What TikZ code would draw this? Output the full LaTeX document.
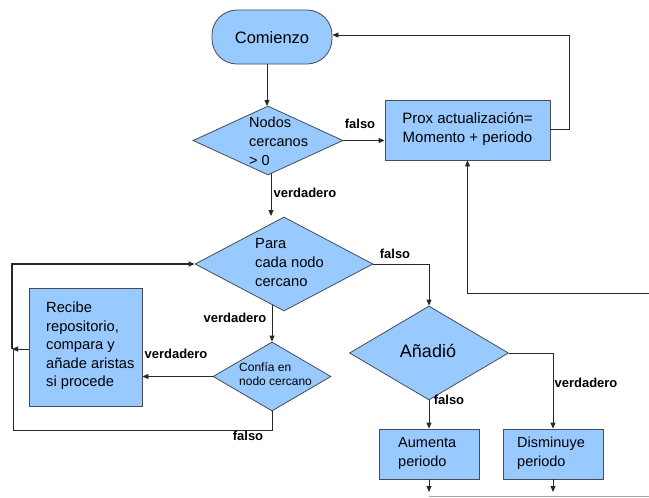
\documentclass[tikz,border=0pt]{standalone}
\usepackage{fontspec}
\setmainfont{Liberation Sans}
\usetikzlibrary{arrows.meta,shapes.geometric,calc}
\pgfdeclarelayer{bg}
\pgfsetlayers{bg,main}
\definecolor{boxfill}{RGB}{153,202,255}
\definecolor{boxline}{RGB}{70,75,85}
\definecolor{wire}{RGB}{40,40,40}
\begin{document}
\begin{tikzpicture}[x=1pt,y=-1pt,
  shapebase/.style={draw=boxline,fill=boxfill,line width=0.8pt,inner sep=0pt},
  stepbox/.style={shapebase,rectangle,minimum width=#1},
  stepbox/.default=100pt,
  startbox/.style={shapebase,rectangle,rounded corners=25pt,minimum width=120pt,minimum height=54pt},
  decision/.style={shapebase,diamond},
  txt/.style={inner sep=0pt,align=left,font=\fontsize{14.5}{19}\selectfont},
  ctxt/.style={inner sep=0pt,align=center,font=\fontsize{15}{19}\selectfont},
  lbl/.style={inner sep=0pt,font=\fontsize{13}{15}\selectfont\bfseries},
  wireline/.style={draw=wire,line width=0.8pt},
  arr/.style={wireline,-{Triangle[length=6pt,width=5pt]}},
]
\useasboundingbox (0,0) rectangle (649,498);

% ---- shapes ----
\node[startbox] (com) at (272,37) {};
\node[ctxt,font=\fontsize{16.5}{19}\selectfont] (comt) at (272,38) {Comienzo};

\node[decision,minimum width=150pt,minimum height=69pt] (d1) at (268,140.5) {};
\node[txt,anchor=west] (d1t) at (249,141) {Nodos\\cercanos\\> 0};

\node[stepbox=165pt,minimum height=60pt] (prox) at (467.5,130) {};
\node[ctxt] (proxt) at (467.5,129) {Prox actualización=\\Momento + periodo};

\node[decision,minimum width=178pt,minimum height=94pt] (d2) at (284,264) {};
\node[txt,anchor=west,font=\fontsize{14.7}{19}\selectfont] (d2t) at (255,263) {Para\\cada nodo\\cercano};

\node[decision,minimum width=118pt,minimum height=69pt] (d4) at (272,376.5) {};
\node[txt,anchor=west,font=\fontsize{12}{14}\selectfont] (d4t) at (239,374) {Confía en\\nodo cercano};

\node[stepbox=113pt,minimum height=118pt] (rec) at (85.5,347) {};
\node[txt,anchor=west,font=\fontsize{14.7}{18.5}\selectfont] (rect) at (46,346) {Recibe\\repositorio,\\compara y\\añade aristas\\si procede};

\node[decision,minimum width=159pt,minimum height=94pt] (d3) at (429,353) {};
\node[ctxt,font=\fontsize{18}{20}\selectfont] (d3t) at (428,351) {Añadió};

\node[stepbox=100pt,minimum height=50pt] (aum) at (429,454) {};
\node[txt,anchor=west] (aumt) at (398,453.5) {Aumenta\\periodo};

\node[stepbox=100pt,minimum height=50pt] (dis) at (553,454) {};
\node[txt,anchor=west] (dist) at (517,453.5) {Disminuye\\periodo};

% ---- free ends ----
\coordinate (rin) at (649,293);
\coordinate (aumout) at (429,492);
\coordinate (disout) at (553,492);
\coordinate (busl) at (429,496.5);
\coordinate (busr) at (649,496.5);
\coordinate (joinl) at (12,349);
\coordinate (joinf) at (13.5,349);

% ---- connectors ----
\draw[arr] (com.south -| 267,0) -- (267,106);
\begin{pgfonlayer}{bg}
  \draw[arr] (271,150) -- (271,216);
  \draw[arr] (d4.north |- d2.center) -- (d4.north);
\end{pgfonlayer}
\draw[arr] (d1.east) -- (d1.east -| prox.west);
\draw[arr] (prox.east |- 0,129) -- (569,129) |- (com.east |- 0,35);
\draw[arr] (rin) -| (prox.south);
\draw[arr] (d2.east) -| (d3.north);
\draw[arr] (d3.east) -| (dis.north);
\draw[arr] (d3.south) -- (aum.north);
\draw[arr] (aum.south) -- (aumout);
\draw[arr] (dis.south) -- (disout);
\draw[draw=gray!70,line width=0.6pt] (busl) -- (busr);
\draw[arr] (d4.west) -- (d4.west -| rec.east);
\draw[wireline] (d4.south) -- (272,430.5) -- (13.5,430.5) -- (joinf);
\draw[arr] (rec.west |- joinl) -- (joinl);
\draw[arr,line width=1.2pt] (joinl) -- (12,264) -- (d2.west);

% ---- branch labels ----
\node[lbl] (l1) at (360,124) {falso};
\node[lbl] (l2) at (305,193) {verdadero};
\node[lbl] (l3) at (395,254) {falso};
\node[lbl] (l4) at (235,318) {verdadero};
\node[lbl] (l5) at (176,354) {verdadero};
\node[lbl] (l6) at (248,436) {falso};
\node[lbl] (l7) at (449,400) {falso};
\node[lbl] (l8) at (586,383) {verdadero};
\end{tikzpicture}
\end{document}
